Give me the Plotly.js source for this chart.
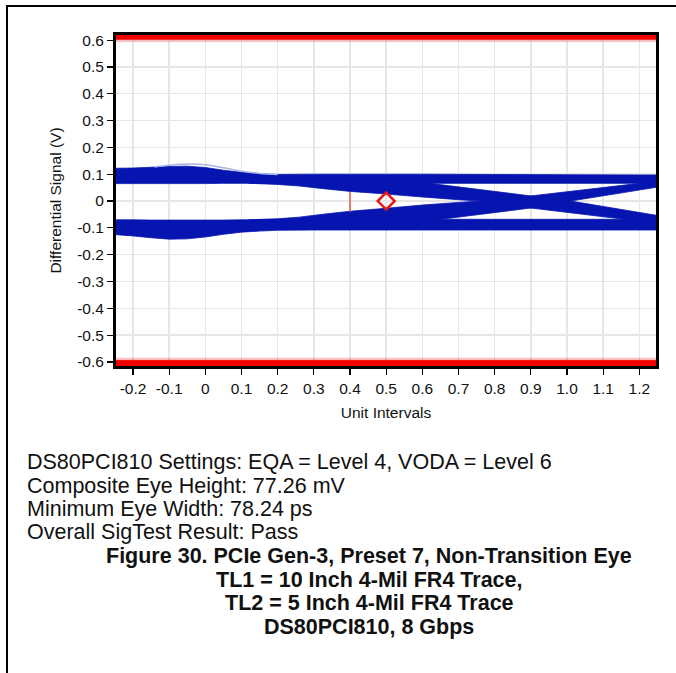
<!DOCTYPE html>
<html>
<head>
<meta charset="utf-8">
<script src="https://cdn.plot.ly/plotly-3.0.1.min.js"></script>
<style>
  html, body { margin: 0; padding: 0; background: #fff; }
  #frame { position: absolute; left: 6px; top: 5px; width: 670px; height: 668px;
           border-left: 2px solid #000; border-top: 2px solid #000; box-sizing: border-box; }
  #chart { position: absolute; left: 0; top: 0; width: 676px; height: 673px; }
</style>
</head>
<body>
<div id="frame"></div>
<div id="chart"></div>
<script>
// ---- axis ticks ----
const xTickVals = [-0.2, -0.1, 0, 0.1, 0.2, 0.3, 0.4, 0.5, 0.6, 0.7, 0.8, 0.9, 1.0, 1.1, 1.2];
const xTickText = ['-0.2', '-0.1', '0', '0.1', '0.2', '0.3', '0.4', '0.5', '0.6', '0.7', '0.8', '0.9', '1.0', '1.1', '1.2'];
const yTickVals = [-0.6, -0.5, -0.4, -0.3, -0.2, -0.1, 0, 0.1, 0.2, 0.3, 0.4, 0.5, 0.6];
const yTickText = ['-0.6', '-0.5', '-0.4', '-0.3', '-0.2', '-0.1', '0', '0.1', '0.2', '0.3', '0.4', '0.5', '0.6'];

// ---- eye rails (Unit Intervals vs Volts) ----
const railX       = [-0.26, -0.2, -0.15, -0.1, -0.05, 0, 0.05, 0.1, 0.15, 0.2, 0.3, 0.6, 1.0, 1.26];
const upperTop    = [0.122, 0.123, 0.126, 0.129, 0.13, 0.125, 0.115, 0.107, 0.101, 0.099, 0.1, 0.1, 0.098, 0.097];
const upperBottom = [0.065, 0.065, 0.065, 0.065, 0.065, 0.065, 0.066, 0.066, 0.066, 0.066, 0.066, 0.066, 0.066, 0.066];
const lowerTop    = [-0.07, -0.07, -0.071, -0.071, -0.071, -0.071, -0.071, -0.07, -0.07, -0.069, -0.068, -0.068, -0.068, -0.068];
const lowerBottom = [-0.124, -0.13, -0.137, -0.142, -0.141, -0.134, -0.124, -0.116, -0.112, -0.109, -0.108, -0.108, -0.108, -0.108];

// faint upper trace over the bump
const bumpX = [-0.14, -0.1, -0.05, 0.0, 0.05, 0.1, 0.15, 0.2];
const bumpY = [0.127, 0.133, 0.138, 0.135, 0.124, 0.111, 0.103, 0.099];

// ---- transition arms ----
const descUpperX = [0.12, 0.62, 0.9, 1.01, 1.26];
const descUpperY = [0.068, 0.066, 0.019, 0.0, -0.056];
const descLowerX = [0.12, 0.2, 0.26, 0.32, 0.4, 0.5, 0.6, 0.7, 0.76, 0.9, 1.17, 1.26];
const descLowerY = [0.066, 0.062, 0.056, 0.047, 0.036, 0.026, 0.015, 0.005, 0.0, -0.026, -0.07, -0.08];

const ascLowerX = [0.12, 0.64, 0.9, 1.01, 1.26];
const ascLowerY = [-0.072, -0.07, -0.026, 0.0, 0.054];
const ascUpperX = [0.12, 0.2, 0.26, 0.32, 0.4, 0.5, 0.6, 0.7, 0.76, 0.9, 1.2, 1.26];
const ascUpperY = [-0.07, -0.066, -0.06, -0.05, -0.038, -0.027, -0.015, -0.005, 0.0, 0.019, 0.066, 0.075];

// ---- mask / markers ----
const maskX = [-0.3, 1.3];
const topMaskLow = 0.603, topMaskHigh = 0.66, topFadeLow = 0.594;
const bottomMaskHigh = -0.594, bottomMaskLow = -0.66, bottomFadeHigh = -0.585;
const cursorX = [0.4, 0.4];
const cursorY = [-0.04, 0.035];
const diamondX = [0.5];
const diamondY = [0.0];

// ---- text ----
const infoLines = [
  'DS80PCI810 Settings: EQA = Level 4, VODA = Level 6',
  'Composite Eye Height: 77.26 mV',
  'Minimum Eye Width: 78.24 ps',
  'Overall SigTest Result: Pass'
];
const captionLines = [
  'Figure 30. PCIe Gen-3, Preset 7, Non-Transition Eye',
  'TL1 = 10 Inch 4-Mil FR4 Trace,',
  'TL2 = 5 Inch 4-Mil FR4 Trace',
  'DS80PCI810, 8 Gbps'
];

const BLUE = '#0615b0';

function band(xs, top, bottom) {
  return { x: xs.concat(xs.slice().reverse()), y: top.concat(bottom.slice().reverse()) };
}
function poly(ux, uy, lx, ly) {
  return { x: ux.concat(lx.slice().reverse()), y: uy.concat(ly.slice().reverse()) };
}
function rect(xs, lo, hi) {
  return { x: [xs[0], xs[1], xs[1], xs[0]], y: [lo, lo, hi, hi] };
}
function fillTrace(p, color) {
  return { type: 'scatter', mode: 'lines', x: p.x, y: p.y, fill: 'toself',
           fillcolor: color, line: { color: color, width: 0.8, simplify: false },
           hoverinfo: 'skip', showlegend: false };
}

const traces = [
  fillTrace(rect(maskX, topFadeLow, topMaskLow), 'rgba(255,0,0,0.18)'),
  fillTrace(rect(maskX, topMaskLow, topMaskHigh), '#f20000'),
  fillTrace(rect(maskX, bottomMaskHigh, bottomFadeHigh), 'rgba(255,0,0,0.18)'),
  fillTrace(rect(maskX, bottomMaskLow, bottomMaskHigh), '#f20000'),
  fillTrace(band(railX, upperTop, upperBottom), BLUE),
  fillTrace(band(railX, lowerTop, lowerBottom), BLUE),
  fillTrace(poly(descUpperX, descUpperY, descLowerX, descLowerY), BLUE),
  fillTrace(poly(ascUpperX, ascUpperY, ascLowerX, ascLowerY), BLUE),
  { type: 'scatter', mode: 'lines', x: bumpX, y: bumpY, line: { color: '#aab2e6', width: 1.5, shape: 'spline' },
    hoverinfo: 'skip', showlegend: false },
  { type: 'scatter', mode: 'lines', x: cursorX, y: cursorY, line: { color: '#e25a4a', width: 1.5 },
    hoverinfo: 'skip', showlegend: false },
  { type: 'scatter', mode: 'markers', x: diamondX, y: diamondY,
    marker: { symbol: 'diamond-open', size: 13, color: '#e81818', line: { color: '#e81818', width: 2.5 } },
    hoverinfo: 'skip', showlegend: false }
];

// plot area pixels: x 116..656, y 35..366
const L = 116, R = 656, T = 35, B = 366;
const px2x = px => (px - L) / (R - L);
const py2y = py => (B - py) / (B - T);

const TXT_FONT = 'Liberation Sans, Arial, sans-serif';
const annotations = [];
const infoY = [462, 486, 509, 532];
infoLines.forEach((t, i) => annotations.push({
  text: t, xref: 'paper', yref: 'paper', x: px2x(25), y: py2y(infoY[i]),
  xanchor: 'left', yanchor: 'middle', showarrow: false,
  font: { family: TXT_FONT, size: 21.5, color: '#111' }
}));
const capY = [556, 580, 603, 627];
captionLines.forEach((t, i) => annotations.push({
  text: '<b>' + t + '</b>', xref: 'paper', yref: 'paper', x: px2x(369), y: py2y(capY[i]),
  xanchor: 'center', yanchor: 'middle', showarrow: false,
  font: { family: TXT_FONT, size: 21.5, color: '#111' }
}));

const axisCommon = {
  showline: true, mirror: true, linecolor: '#000', linewidth: 3,
  ticks: 'outside', ticklen: 6, tickwidth: 1.2, tickcolor: '#000',
  showgrid: true, gridcolor: '#e6e6e6', gridwidth: 1.5, zeroline: false,
  tickfont: { family: TXT_FONT, size: 15.5, color: '#111' },
  fixedrange: true
};

const layout = {
  width: 676, height: 673,
  margin: { l: L, r: 676 - R, t: T, b: 673 - B, pad: 0 },
  paper_bgcolor: 'rgba(0,0,0,0)', plot_bgcolor: '#ffffff',
  showlegend: false,
  xaxis: Object.assign({}, axisCommon, {
    range: [-0.247, 1.246], tickmode: 'array', tickvals: xTickVals, ticktext: xTickText,
    title: { text: 'Unit Intervals', standoff: 12, font: { family: TXT_FONT, size: 15.5, color: '#111' } }
  }),
  yaxis: Object.assign({}, axisCommon, {
    range: [-0.615, 0.619], tickmode: 'array', tickvals: yTickVals, ticktext: yTickText,
    title: { text: 'Differential Signal (V)', standoff: 12, font: { family: TXT_FONT, size: 15.5, color: '#111' } }
  }),
  annotations: annotations
};

Plotly.newPlot('chart', traces, layout, { displayModeBar: false, staticPlot: true });
</script>
</body>
</html>
